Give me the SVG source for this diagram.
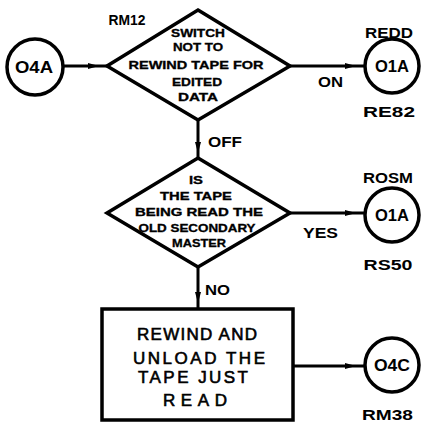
<svg xmlns="http://www.w3.org/2000/svg" width="421" height="427" viewBox="0 0 421 427">
<style>
.s{fill:none;stroke:#000;stroke-width:3;stroke-linejoin:miter}
.n{fill:#fff;stroke:#000;stroke-width:3.5}
.t{font-family:"Liberation Sans",Arial,sans-serif;font-weight:bold;fill:#000;text-anchor:middle}
.d{font-size:10.5px;stroke:#000;stroke-width:0.3}
.c{font-size:16px}
.l{font-size:15.5px}
.b{font-size:17px;font-weight:normal;stroke:#000;stroke-width:0.6}
</style>
<defs>
<marker id="a" markerWidth="12" markerHeight="8" refX="10" refY="4" orient="auto" markerUnits="userSpaceOnUse">
<path d="M0,1 L11,4 L0,7 Z" fill="#000"/>
</marker>
</defs>
<rect width="421" height="427" fill="#fff"/>
<g id="connectors">
<path class="s" d="M63,66 L98,66 L108,66" marker-mid="url(#a)"/>
<path class="s" d="M290,66 L355,66 L366,66" marker-mid="url(#a)"/>
<path class="s" d="M198,120 L198,152 L198,158" marker-mid="url(#a)"/>
<path class="s" d="M290,213 L355,213 L366,213" marker-mid="url(#a)"/>
<path class="s" d="M198,267 L198,302 L198,309" marker-mid="url(#a)"/>
<path class="s" d="M293,366 L355,366 L366,366" marker-mid="url(#a)"/>
<text class="t l" x="330.5" y="87" textLength="25" lengthAdjust="spacingAndGlyphs">ON</text>
<text class="t l" x="225" y="147" textLength="34" lengthAdjust="spacingAndGlyphs">OFF</text>
<text class="t l" x="320.5" y="238" textLength="35" lengthAdjust="spacingAndGlyphs">YES</text>
<text class="t l" x="217.5" y="295" textLength="25" lengthAdjust="spacingAndGlyphs">NO</text>
</g>
<g id="c1">
<circle class="n" cx="35" cy="67" r="28"/>
<text class="t c" x="34" y="72.5" textLength="38" lengthAdjust="spacingAndGlyphs">O4A</text>
</g>
<g id="d1">
<path class="n" d="M198,10 L290,66 L198,120 L107,66 Z"/>
<text class="t l" x="127" y="25" textLength="37" lengthAdjust="spacingAndGlyphs">RM12</text>
<text class="t d" x="198" y="37" textLength="54" lengthAdjust="spacingAndGlyphs">SWITCH</text>
<text class="t d" x="198" y="51" textLength="50" lengthAdjust="spacingAndGlyphs">NOT TO</text>
<text class="t d" x="196" y="69" textLength="135" lengthAdjust="spacingAndGlyphs">REWIND TAPE FOR</text>
<text class="t d" x="197" y="86" textLength="50" lengthAdjust="spacingAndGlyphs">EDITED</text>
<text class="t d" x="198" y="101" textLength="40" lengthAdjust="spacingAndGlyphs">DATA</text>
</g>
<g id="c2">
<circle class="n" cx="392" cy="66" r="27"/>
<text class="t c" x="392" y="72" textLength="34" lengthAdjust="spacingAndGlyphs">O1A</text>
<text class="t l" x="389" y="38" textLength="48" lengthAdjust="spacingAndGlyphs">REDD</text>
<text class="t l" x="389" y="117" textLength="52" lengthAdjust="spacingAndGlyphs">RE82</text>
</g>
<g id="d2">
<path class="n" d="M198,158 L290,213 L198,267 L107,213 Z"/>
<text class="t d" x="196" y="184" textLength="14" lengthAdjust="spacingAndGlyphs">IS</text>
<text class="t d" x="196" y="200" textLength="72" lengthAdjust="spacingAndGlyphs">THE TAPE</text>
<text class="t d" x="199" y="216" textLength="128" lengthAdjust="spacingAndGlyphs">BEING READ THE</text>
<text class="t d" x="197" y="232" textLength="117" lengthAdjust="spacingAndGlyphs">OLD SECONDARY</text>
<text class="t d" x="199" y="247" textLength="54" lengthAdjust="spacingAndGlyphs">MASTER</text>
</g>
<g id="c3">
<circle class="n" cx="392" cy="215" r="27"/>
<text class="t c" x="392" y="221" textLength="34" lengthAdjust="spacingAndGlyphs">O1A</text>
<text class="t l" x="388" y="183" textLength="50" lengthAdjust="spacingAndGlyphs">ROSM</text>
<text class="t l" x="388" y="270" textLength="49" lengthAdjust="spacingAndGlyphs">RS50</text>
</g>
<g id="box">
<rect class="n" x="102" y="309" width="191" height="111"/>
<text class="t b" x="197" y="340" textLength="120" lengthAdjust="spacing">REWIND AND</text>
<text class="t b" x="199" y="364" textLength="132" lengthAdjust="spacing">UNLOAD THE</text>
<text class="t b" x="193" y="383" textLength="110" lengthAdjust="spacing">TAPE JUST</text>
<text class="t b" x="195" y="406" textLength="64" lengthAdjust="spacing">READ</text>
</g>
<g id="c4">
<circle class="n" cx="392" cy="365" r="27"/>
<text class="t c" x="392" y="371" textLength="36" lengthAdjust="spacingAndGlyphs">O4C</text>
<text class="t l" x="387.5" y="420" textLength="51" lengthAdjust="spacingAndGlyphs">RM38</text>
</g>
</svg>
